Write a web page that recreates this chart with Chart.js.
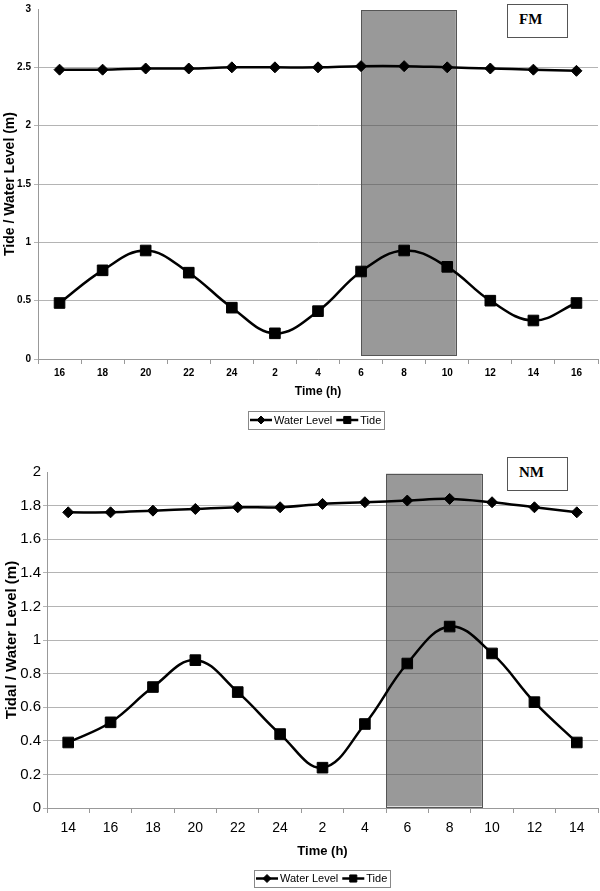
<!DOCTYPE html>
<html>
<head>
<meta charset="utf-8">
<script src="https://cdn.jsdelivr.net/npm/chart.js"></script>
<style>
  body { margin: 0; background: #fff; width: 600px; height: 891px; position: relative; overflow: hidden; }
  .panel { position: absolute; left: 0; width: 600px; }
  .tag { position: absolute; border: 1px solid #555; background: #fff;
         font: bold 15px "Liberation Serif", "Times New Roman", serif; color: #000;
         box-sizing: border-box; padding: 6px 0 0 11px; }
</style>
</head>
<body>
<div class="panel" style="top:0;height:445px"><canvas id="fm" width="600" height="445"></canvas></div>
<div class="panel" style="top:445px;height:446px"><canvas id="nm" width="600" height="446"></canvas></div>
<div class="tag" style="left:507px;top:4px;width:61px;height:34px">FM</div>
<div class="tag" style="left:507px;top:457px;width:61px;height:34px">NM</div>
<script>
// Full moon (top)
const fmHours = ['16', '18', '20', '22', '24', '2', '4', '6', '8', '10', '12', '14', '16'];
const fmWater = [2.48, 2.48, 2.49, 2.49, 2.50, 2.50, 2.50, 2.51, 2.51, 2.50, 2.49, 2.48, 2.47];
const fmTide = [0.48, 0.76, 0.93, 0.74, 0.44, 0.22, 0.41, 0.75, 0.93, 0.79, 0.50, 0.33, 0.48];
const fmShade = [7, 9.2, 0.03, 2.99]; // from index, to index, low, high

// New moon (bottom)
const nmHours = ['14', '16', '18', '20', '22', '24', '2', '4', '6', '8', '10', '12', '14'];
const nmWater = [1.76, 1.76, 1.77, 1.78, 1.79, 1.79, 1.81, 1.82, 1.83, 1.84, 1.82, 1.79, 1.76];
const nmTide = [0.39, 0.51, 0.72, 0.88, 0.69, 0.44, 0.24, 0.50, 0.86, 1.08, 0.92, 0.63, 0.39];
const nmShade = [7.5, 9.76, 0.01, 1.99];

const FONT = '"Liberation Sans", Arial, sans-serif';

// grey band behind the lines
const shadePlugin = {
  id: 'shade',
  beforeDatasetsDraw(chart, args, opts) {
    const {ctx, scales: {x, y}} = chart;
    const [from, to, low, high] = opts.range;
    const l = x.getPixelForValue(from), r = x.getPixelForValue(to);
    const t = y.getPixelForValue(high), b = y.getPixelForValue(low);
    ctx.save();
    ctx.fillStyle = 'rgba(80,80,80,0.58)';
    ctx.fillRect(l, t, r - l, b - t);
    ctx.strokeStyle = '#555';
    ctx.lineWidth = 1;
    ctx.strokeRect(Math.round(l) + 0.5, Math.round(t) + 0.5, Math.round(r - l), Math.round(b - t));
    ctx.restore();
  }
};

// excel style legend: box, line with marker, label
const boxLegend = {
  id: 'boxLegend',
  afterDraw(chart, args, opts) {
    const {ctx, chartArea} = chart;
    ctx.save();
    ctx.font = opts.font;
    const items = chart.data.datasets.map(ds => ({
      label: ds.label, style: ds.pointStyle, w: ctx.measureText(ds.label).width
    }));
    const seg = 22;
    let total = 2;
    items.forEach((it, i) => { total += seg + 2 + it.w + (i < items.length - 1 ? 4 : 3); });
    const cx = (chartArea.left + chartArea.right) / 2 + opts.shift;
    const x0 = Math.round(cx - total / 2);
    const top = opts.top, h = opts.height, cy = top + h / 2;
    ctx.fillStyle = '#fff';
    ctx.fillRect(x0, top, total, h);
    ctx.strokeStyle = '#888';
    ctx.lineWidth = 1;
    ctx.strokeRect(x0 + 0.5, top + 0.5, Math.round(total), h);
    let x = x0 + 2;
    items.forEach(it => {
      ctx.strokeStyle = '#000';
      ctx.lineWidth = 2.5;
      ctx.beginPath();
      ctx.moveTo(x, cy);
      ctx.lineTo(x + seg, cy);
      ctx.stroke();
      ctx.fillStyle = '#000';
      ctx.lineWidth = 1;
      Chart.helpers.drawPoint(ctx, {pointStyle: it.style, radius: it.style === 'rect' ? 5 : 4, rotation: 0, borderWidth: 1}, x + seg / 2, cy);
      x += seg + 2;
      ctx.fillStyle = '#000';
      ctx.textAlign = 'left';
      ctx.textBaseline = 'middle';
      ctx.fillText(it.label, x, cy + 0.5);
      x += it.w + 4;
    });
    ctx.restore();
  }
};

function makeChart(id, p) {
  const gridColor = c => (c.tick && c.tick.value === p.yMax) ? 'rgba(0,0,0,0)' : '#b4b4b4';
  return new Chart(document.getElementById(id), {
    type: 'line',
    data: {
      labels: p.labels,
      datasets: [
        {
          label: 'Water Level', data: p.water, pointStyle: 'rectRot',
          borderColor: '#000', backgroundColor: '#000', borderWidth: 2.5,
          pointRadius: 5.5, pointBorderWidth: 1, tension: 0.4
        },
        {
          label: 'Tide', data: p.tide, pointStyle: 'rect',
          borderColor: '#000', backgroundColor: '#000', borderWidth: 2.5,
          pointRadius: 7.5, pointBorderWidth: 1, tension: 0.4
        }
      ]
    },
    options: {
      responsive: false,
      animation: false,
      devicePixelRatio: 1,
      layout: { autoPadding: false, padding: { top: p.padTop, right: 2, left: 0, bottom: p.padBottom } },
      plugins: {
        legend: { display: false },
        tooltip: { enabled: false },
        shade: { range: p.shade },
        boxLegend: { font: '11px ' + FONT, top: p.legendTop, height: p.legendH, shift: p.legendShift }
      },
      scales: {
        x: {
          offset: true,
          grid: { offset: true, drawOnChartArea: false, drawTicks: true, tickLength: 5, color: '#999' },
          border: { color: '#999' },
          ticks: { color: '#000', padding: p.xPad, maxRotation: 0, autoSkip: false,
                   font: { family: FONT, size: p.tickSize, weight: p.tickWeight } },
          title: { display: true, text: 'Time (h)', color: '#000', padding: 0,
                   font: { family: FONT, size: p.titleSize, weight: 'bold' } },
          afterFit: s => { s.height = p.xHeight; s.paddingLeft = 0; s.paddingRight = 0; }
        },
        y: {
          min: 0, max: p.yMax,
          grid: { color: gridColor, tickLength: 4 },
          border: { color: '#999' },
          ticks: { stepSize: p.yStep, color: '#000', padding: p.yPad,
                   font: { family: FONT, size: p.yTickSize, weight: p.tickWeight },
                   callback: v => String(+v.toFixed(2)) },
          title: { display: true, text: p.yTitle, color: '#000', padding: { top: p.yTitlePad, bottom: 0 },
                   font: { family: FONT, size: p.yTitleSize, weight: 'bold' } },
          afterFit: s => { s.width = p.yWidth; }
        }
      }
    },
    plugins: [shadePlugin, boxLegend]
  });
}

makeChart('fm', {
  labels: fmHours, water: fmWater, tide: fmTide, shade: fmShade,
  yMax: 3, yStep: 0.5, yTitle: 'Tide / Water Level (m)',
  padTop: 9, padBottom: 46, xHeight: 40, yWidth: 38,
  xPad: 3, yPad: 3, yTitlePad: 2,
  tickSize: 10, yTickSize: 10, tickWeight: 'bold', titleSize: 12, yTitleSize: 14,
  legendTop: 411, legendH: 18, legendShift: -1.5
});

makeChart('nm', {
  labels: nmHours, water: nmWater, tide: nmTide, shade: nmShade,
  yMax: 2, yStep: 0.2, yTitle: 'Tidal / Water Level (m)',
  padTop: 27, padBottom: 32, xHeight: 51, yWidth: 47,
  xPad: 7, yPad: 2, yTitlePad: 3,
  tickSize: 14, yTickSize: 15, tickWeight: 'normal', titleSize: 13, yTitleSize: 15,
  legendTop: 425, legendH: 17, legendShift: -0.5
});
</script>
</body>
</html>
